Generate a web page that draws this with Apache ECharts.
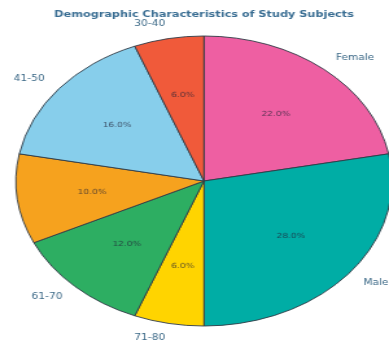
<!DOCTYPE html>
<html>
<head>
<meta charset="utf-8">
<script src="https://cdn.jsdelivr.net/npm/echarts@6/dist/echarts.min.js"></script>
<style>
html,body{margin:0;padding:0;background:#fff;overflow:hidden;}
#wrap{width:389px;height:340px;overflow:hidden;position:relative;}
#chart{width:300px;height:340px;transform:scaleX(1.29667);transform-origin:0 0;}
</style>
</head>
<body>
<div id="wrap"><div id="chart"></div></div>
<script>
const titleText = 'Demographic Characteristics of Study Subjects';
const categories = ['Female', 'Male', '71-80', '61-70', '51-60', '41-50', '30-40'];
const values = [22, 28, 6, 12, 10, 16, 6];
const colors = ['#EE5FA2', '#00ADA5', '#FFD400', '#2DAE62', '#F6A21E', '#87CEEB', '#F05A3A'];

const chart = echarts.init(document.getElementById('chart'), null, {renderer: 'canvas'});
const data = categories.map((c, i) => ({name: c, value: values[i], itemStyle: {color: colors[i]}}));
const cx = 157.3, cy = 181, R = 145;
const font = 'DejaVu Sans';

chart.setOption({
  animation: false,
  graphic: [{
    type: 'text', x: cx, y: 15,
    style: {text: titleText, align: 'center', verticalAlign: 'middle',
      font: 'bold 8.7px "DejaVu Sans"', fill: '#3a6e93'}
  }],
  series: [
    {
      type: 'pie', center: [cx, cy], radius: [0, R], startAngle: 90, clockwise: true,
      avoidLabelOverlap: false, silent: true,
      itemStyle: {borderColor: '#2f3a45', borderWidth: 0.9},
      label: {show: true, position: 'outside', fontFamily: font, fontSize: 8.2,
        color: '#3d6a88', distanceToLabelLine: 0, overflow: 'none', formatter: '{b}'},
      labelLine: {show: false, length: R * 0.1, length2: 0},
      data: data
    },
    {
      type: 'pie', center: [cx, cy], radius: [23, R], startAngle: 90, clockwise: true,
      avoidLabelOverlap: false, silent: true, z: 5,
      itemStyle: {color: 'rgba(0,0,0,0)', borderWidth: 0},
      label: {show: true, position: 'inside', fontFamily: font, fontSize: 7,
        color: 'rgba(35,35,55,0.72)',
        formatter: p => p.value.toFixed(1) + '%'},
      labelLine: {show: false},
      data: categories.map((c, i) => ({name: c, value: values[i]}))
    }
  ]
});
</script>
</body>
</html>
